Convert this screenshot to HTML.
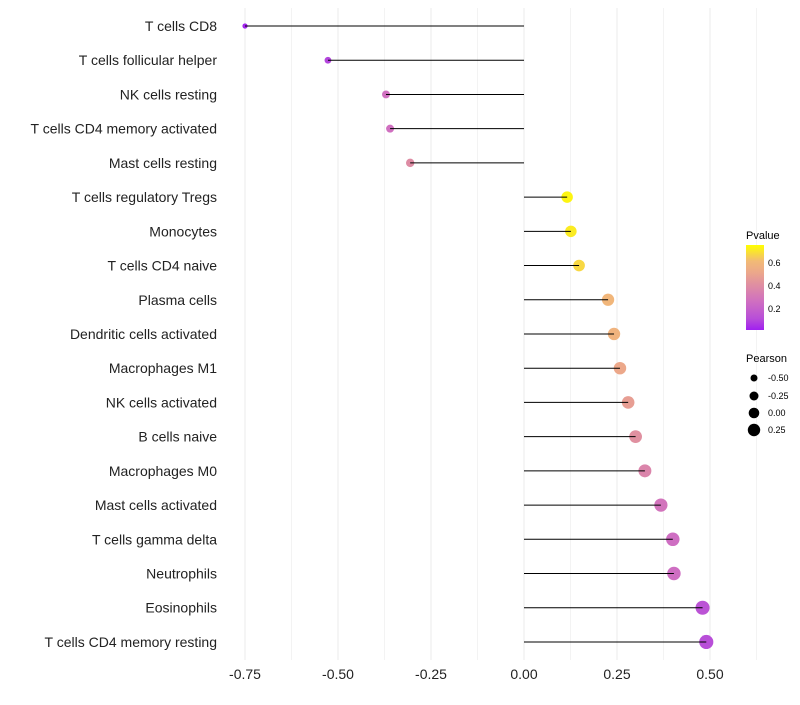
<!DOCTYPE html>
<html><head><meta charset="utf-8"><style>
body{margin:0;background:#fff;font-family:"Liberation Sans",sans-serif}
</style></head><body>
<svg id="chart" width="800" height="700" xmlns="http://www.w3.org/2000/svg" font-family="Liberation Sans, sans-serif">
<g id="grid"></g>
<g id="marks"></g>
<g id="ylabels"></g>
<g id="xlabels"></g>
<g id="legend">
<defs><linearGradient id="pg" x1="0" y1="1" x2="0" y2="0">
<stop offset="0" stop-color="#a020f0"/><stop offset="0.135" stop-color="#b84ed8"/><stop offset="0.34" stop-color="#d070c0"/><stop offset="0.54" stop-color="#e090a0"/><stop offset="0.68" stop-color="#eca88a"/><stop offset="0.81" stop-color="#f2ba76"/><stop offset="1" stop-color="#ffff00"/></linearGradient></defs>
<text x="746" y="239" font-size="11">Pvalue</text>
<rect x="746" y="245" width="18" height="85" fill="url(#pg)"/>
<text x="768" y="266" font-size="9">0.6</text>
<text x="768" y="289" font-size="9">0.4</text>
<text x="768" y="312" font-size="9">0.2</text>
<text x="746" y="362" font-size="11">Pearson</text>
<circle cx="754" cy="378" r="3.5"/>
<circle cx="754" cy="396" r="4.5"/>
<circle cx="754" cy="413" r="5.3"/>
<circle cx="754" cy="430" r="6.2"/>
<text x="768" y="381" font-size="9">-0.50</text>
<text x="768" y="399" font-size="9">-0.25</text>
<text x="768" y="416" font-size="9">0.00</text>
<text x="768" y="433" font-size="9">0.25</text>
</g>
</svg>
<script>
const categories=["T cells CD8","T cells follicular helper","NK cells resting","T cells CD4 memory activated","Mast cells resting","T cells regulatory  Tregs","Monocytes","T cells CD4 naive","Plasma cells","Dendritic cells activated","Macrophages M1","NK cells activated","B cells naive","Macrophages M0","Mast cells activated","T cells gamma delta","Neutrophils","Eosinophils","T cells CD4 memory resting"];
const pearson=[-0.75,-0.527,-0.371,-0.36,-0.306,0.116,0.126,0.148,0.226,0.242,0.258,0.28,0.30,0.325,0.368,0.40,0.403,0.48,0.49];
const pvalue=[0.01,0.08,0.25,0.25,0.38,0.72,0.7,0.66,0.58,0.56,0.5,0.46,0.4,0.35,0.27,0.24,0.24,0.12,0.1];
const xTicks=[-0.75,-0.5,-0.25,0,0.25,0.5];
const xTickLabels=["-0.75","-0.50","-0.25","0.00","0.25","0.50"];
const NS="http://www.w3.org/2000/svg";
const X=v=>524+v*372;
const Y=i=>26+i*34.22;
const R=v=>5.3+v*3.6;
function col(p){
  const stops=[[0,[160,32,240]],[0.1,[184,78,216]],[0.25,[208,112,192]],[0.4,[224,144,160]],[0.5,[236,168,138]],[0.6,[242,186,118]],[0.74,[255,255,0]]];
  p=Math.max(0,Math.min(0.74,p));
  for(let k=1;k<stops.length;k++){if(p<=stops[k][0]){const a=stops[k-1],b=stops[k],t=(p-a[0])/(b[0]-a[0]);
    return "rgb("+a[1].map((c,j)=>Math.round(c+(b[1][j]-c)*t)).join(",")+")";}}
  return "rgb(255,255,0)";
}
function mk(t,a,p){const e=document.createElementNS(NS,t);for(const k in a)e.setAttribute(k,a[k]);p.appendChild(e);return e;}
const grid=document.getElementById('grid'),marks=document.getElementById('marks'),yl=document.getElementById('ylabels'),xl=document.getElementById('xlabels');
for(let v=-0.875;v<=0.626;v+=0.125){if(v<-0.8)continue;
  const l=mk('line',{x1:X(v),x2:X(v),y1:8,y2:660,stroke:'#ebebeb','stroke-width':(Math.abs(v*4-Math.round(v*4))<1e-6)?1:0.6},grid);
  
  
}
xTicks.forEach((v,i)=>{const t=mk('text',{x:X(v),y:679,'font-size':14,'text-anchor':'middle',fill:'#222'},xl);t.textContent=xTickLabels[i];
  
  });
categories.forEach((c,i)=>{
  const t=mk('text',{x:217,y:Y(i)+5,'font-size':14,'text-anchor':'end',fill:'#222'},yl);t.textContent=c;
  
  
  const ci=mk('circle',{cx:X(pearson[i]),cy:Y(i),r:R(pearson[i]),fill:col(pvalue[i])},marks);
  
  
  const l=mk('line',{x1:X(0),x2:X(pearson[i]),y1:Y(i),y2:Y(i),stroke:'#000','stroke-width':1},marks);
  
  
});
</script>
</body></html>
